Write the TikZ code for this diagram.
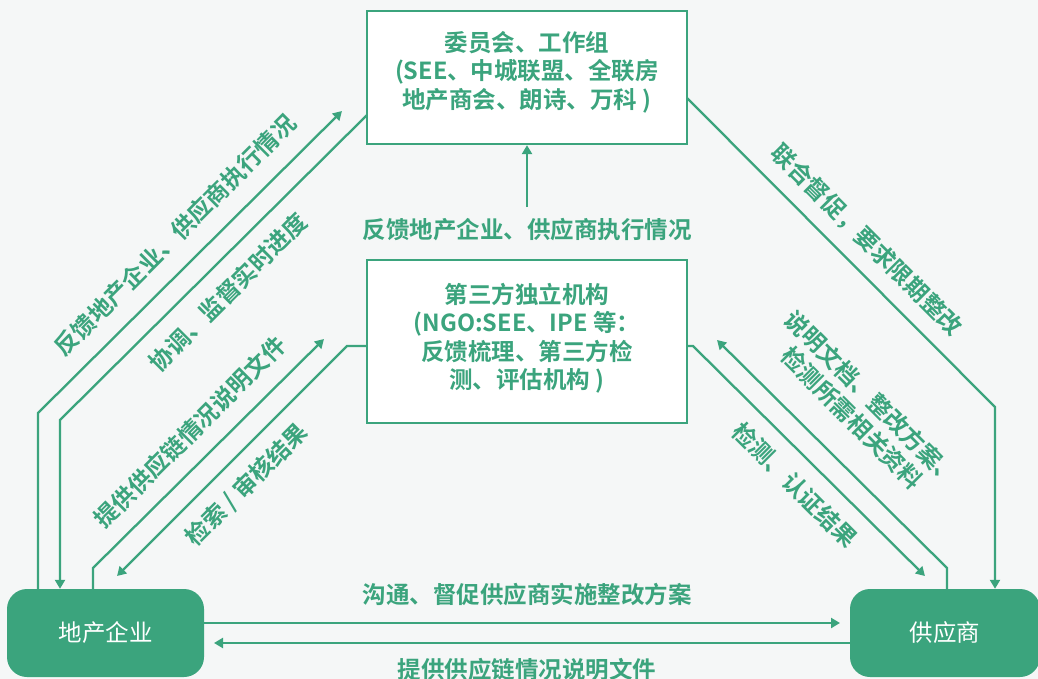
\documentclass[tikz,border=0pt]{standalone}
\usepackage{fontspec}
\setmainfont{Noto Sans CJK SC}[BoldFont={* Bold}]
\usetikzlibrary{arrows.meta}
\definecolor{gr}{HTML}{3BA47D}
\definecolor{bg}{HTML}{F5F7F7}
\tikzset{
  arr/.style={draw=gr, line width=2.3pt, -{Triangle[length=9pt,width=10pt]}},
  wbox/.style={draw=gr, line width=2.3pt, fill=white, inner sep=0pt},
  gbox/.style={fill=gr, rounded corners=20pt, inner sep=0pt, text=white,
     font=\fontsize{23.5}{26}\selectfont},
  lab/.style={text=gr, font=\bfseries\fontsize{23.5}{28.5}\selectfont, align=center, inner sep=0pt},
}
\begin{document}
\begin{tikzpicture}[x=1pt,y=-1pt]
\fill[bg] (0,0) rectangle (1038,679);
\useasboundingbox (0,0) rectangle (1038,679);

% boxes
\node[wbox, minimum width=320pt, minimum height=133pt] (top) at (527,77.5) {};
\node[lab] (toptext) at (527,72) {委员会、工作组\\(SEE、中城联盟、全联房\\地产商会、朗诗、万科 )};
\node[wbox, minimum width=320pt, minimum height=163pt] (mid) at (527,341.5) {};
\node[lab] (midtext) at (527,338) {第三方独立机构\\(NGO:SEE、IPE 等：\\反馈梳理、第三方检\\测、评估机构 )};
\node[gbox, minimum width=197pt, minimum height=88pt] (dev) at (105.5,633) {地产企业};
\node[gbox, minimum width=190pt, minimum height=88pt] (sup) at (945,633) {供应商};

% centre arrow
\coordinate (c0) at (527,207);
\draw[arr] (c0) -- (top.south);
\node[lab] (lc) at (527,230) {反馈地产企业、供应商执行情况};

% left connectors
\coordinate (a1) at (38,413);   \coordinate (a2) at (342,111);
\draw[arr] (dev.north -| a1) -- (a1) -- (a2);
\coordinate (b0) at (367,115);  \coordinate (b1) at (60,420);
\draw[arr] (b0) -- (b1) -- (dev.north -| b1);
\coordinate (k1) at (93,568);   \coordinate (k2) at (324,339);
\draw[arr] (dev.north -| k1) -- (k1) -- (k2);
\coordinate (d0) at (367,346);  \coordinate (d1) at (347,346); \coordinate (d2) at (117,576);
\draw[arr] (d0) -- (d1) -- (d2);

% right connectors
\coordinate (e0) at (687,98);   \coordinate (e1) at (995,407);
\draw[arr] (e0) -- (e1) -- (sup.north -| e1);
\coordinate (f1) at (947,568);  \coordinate (f2) at (717,340);
\draw[arr] (sup.north -| f1) -- (f1) -- (f2);
\coordinate (g0) at (687,346);  \coordinate (g1) at (693,346); \coordinate (g2) at (925,576);
\draw[arr] (g0) -- (g1) -- (g2);

% horizontal connectors
\coordinate (h1) at (840,623);
\draw[arr] (dev.east |- h1) -- (h1);
\coordinate (h2) at (214,643);
\draw[arr] (sup.west |- h2) -- (h2);

% labels
\node[lab, rotate=45] (l1) at (175,235) {反馈地产企业、供应商执行情况};
\node[lab, rotate=45] (l2) at (228,292) {协调、监督实时进度};
\node[lab, rotate=45] (l3) at (190,432) {提供供应链情况说明文件};
\node[lab, rotate=45] (l4) at (247,485) {检索 / 审核结果};
\node[lab, rotate=-45] (r1) at (867,240) {联合督促，要求限期整改};
\node[lab, rotate=-45] (r2) at (862,408) {说明文档、整改方案、\\检测所需相关资料};
\node[lab, rotate=-45] (r3) at (795,485) {检测、认证结果};
\node[lab] (lb1) at (527,595) {沟通、督促供应商实施整改方案};
\node[lab] (lb2) at (527,670) {提供供应链情况说明文件};
\end{tikzpicture}
\end{document}
